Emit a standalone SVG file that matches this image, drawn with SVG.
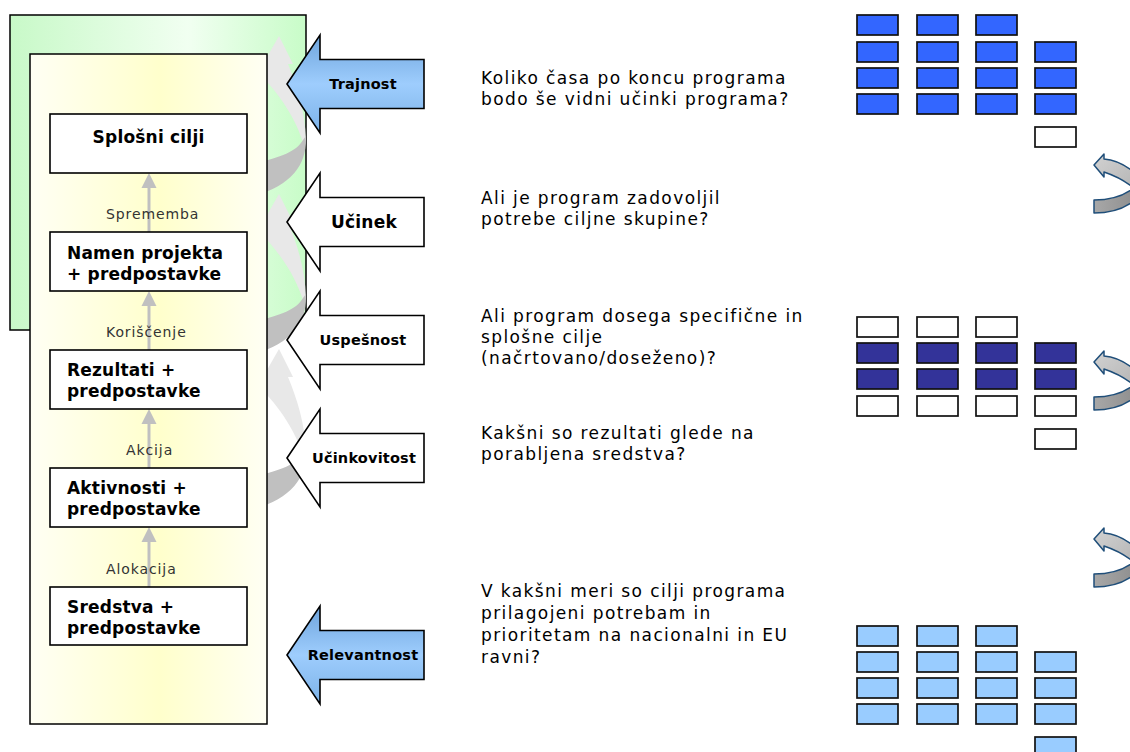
<svg xmlns="http://www.w3.org/2000/svg" width="1130" height="752" viewBox="0 0 1130 752">
  <defs>
    <linearGradient id="gGreen" x1="0" y1="0" x2="1" y2="0">
      <stop offset="0" stop-color="#c8f9c8"/>
      <stop offset="0.6" stop-color="#f1fff1"/>
      <stop offset="1" stop-color="#c8fcc8"/>
    </linearGradient>
    <linearGradient id="gYellow" x1="0" y1="0" x2="1" y2="0">
      <stop offset="0" stop-color="#fffff4"/>
      <stop offset="0.55" stop-color="#ffffcc"/>
      <stop offset="1" stop-color="#fffff4"/>
    </linearGradient>
    <linearGradient id="gBlue" x1="0" y1="0" x2="0" y2="1">
      <stop offset="0" stop-color="#6ea4dc"/>
      <stop offset="0.5" stop-color="#9ecdfd"/>
      <stop offset="1" stop-color="#7cb2e8"/>
    </linearGradient>
    <linearGradient id="gTurnLight" x1="0" y1="0" x2="1" y2="1">
      <stop offset="0" stop-color="#d2d2d2"/>
      <stop offset="1" stop-color="#b4b4b4"/>
    </linearGradient>
    <linearGradient id="gTurnDark" x1="0" y1="0" x2="1" y2="0">
      <stop offset="0" stop-color="#a8a8a8"/>
      <stop offset="1" stop-color="#8e8e8e"/>
    </linearGradient>

    <!-- left-pointing block arrow, origin at the tip -->
    <path id="blockArrow" d="M0 0 L33 -49 L33 -24.5 L137 -24.5 L137 24.5 L33 24.5 L33 49 Z"/>

    <!-- grey hook arrow running up the side of the logframe -->
    <g id="hook">
      <path fill="#e8e8e8" d="M279 36 L293 64 L288 64 C297 86 305 110 306 140 L303 142 C295 118 282 97 258 72 L258 64 L263 64 Z"/>
      <path fill="#c0c0c0" d="M306 136 C307 165 292 186 250 197 L250 164 C280 158 296 152 303 140 Z"/>
    </g>

    <!-- turning arrow at the right edge -->
    <g id="turn" stroke="#1f4e79" stroke-width="1.5" stroke-linejoin="round">
      <path fill="url(#gTurnDark)" d="M1136 186 C1125 196 1111 200 1094 200 L1094 213 C1112 213 1127 207 1136 199 Z"/>
      <path fill="url(#gTurnLight)" d="M1094 165 L1104 154 L1104 159 C1117 160 1127 166 1136 174 L1136 190 C1127 182 1116 176 1104 172 L1104 177 Z"/>
    </g>
  </defs>

  <style>
    .panel { stroke: #000; stroke-width: 1.5; }
    .box { fill: #fff; stroke: #000; stroke-width: 1.6; }
    .boxText { font-family: "DejaVu Sans", Verdana, sans-serif; font-weight: bold; font-size: 17px; letter-spacing: 0.2px; fill: #000; }
    .flow { stroke: #c0c0c0; stroke-width: 3; fill: none; }
    .flowHead { fill: #c0c0c0; }
    .flowText { font-family: "DejaVu Sans", Verdana, sans-serif; font-size: 14px; letter-spacing: 0.9px; fill: #333; }
    .crit { stroke: #000; stroke-width: 1.6; stroke-linejoin: miter; }
    .critText { font-family: "DejaVu Sans", Verdana, sans-serif; font-weight: bold; font-size: 14.5px; letter-spacing: 0.2px; fill: #000; text-anchor: middle; }
    .question { font-family: "DejaVu Sans", Verdana, sans-serif; font-size: 17px; letter-spacing: 1.4px; fill: #000; }
    .cell { stroke: #111; stroke-width: 1.7; }
    .c1 { fill: #3366ff; }
    .c2 { fill: #333399; }
    .c3 { fill: #99ccff; }
    .c0 { fill: #fff; }
  </style>

  <!-- impact panel behind the logframe -->
  <rect id="impact-panel" class="panel" x="10" y="15" width="296" height="315" fill="url(#gGreen)"/>

  <!-- hook arrows linking the levels -->
  <g id="hooks">
    <use href="#hook"/>
    <use href="#hook" transform="translate(0,158)"/>
    <use href="#hook" transform="translate(0,313)"/>
  </g>

  <!-- logframe panel -->
  <rect id="logframe-panel" class="panel" x="30" y="54" width="237" height="670" fill="url(#gYellow)"/>

  <!-- connectors between logframe levels -->
  <g id="connectors">
    <line class="flow" x1="149" y1="232" x2="149" y2="186"/>
    <polygon class="flowHead" points="149,173 141.5,188 156.5,188"/>
    <line class="flow" x1="149" y1="350" x2="149" y2="304"/>
    <polygon class="flowHead" points="149,291 141.5,306 156.5,306"/>
    <line class="flow" x1="149" y1="468" x2="149" y2="422"/>
    <polygon class="flowHead" points="149,409 141.5,424 156.5,424"/>
    <line class="flow" x1="149" y1="587" x2="149" y2="540"/>
    <polygon class="flowHead" points="149,527 141.5,542 156.5,542"/>
    <text class="flowText" x="106" y="219">Sprememba</text>
    <text class="flowText" x="106" y="337">Koriščenje</text>
    <text class="flowText" x="126" y="455">Akcija</text>
    <text class="flowText" x="106" y="574">Alokacija</text>
  </g>

  <!-- logframe levels -->
  <g id="splosni-cilji">
    <rect class="box" x="50" y="114" width="197" height="59"/>
    <text class="boxText" x="148.5" y="143" text-anchor="middle">Splošni cilji</text>
  </g>
  <g id="namen-projekta">
    <rect class="box" x="50" y="232" width="197" height="59"/>
    <text class="boxText" x="67" y="259">Namen projekta</text>
    <text class="boxText" x="67" y="280">+ predpostavke</text>
  </g>
  <g id="rezultati">
    <rect class="box" x="50" y="350" width="197" height="59"/>
    <text class="boxText" x="67" y="376">Rezultati +</text>
    <text class="boxText" x="67" y="397">predpostavke</text>
  </g>
  <g id="aktivnosti">
    <rect class="box" x="50" y="468" width="197" height="59"/>
    <text class="boxText" x="67" y="494">Aktivnosti +</text>
    <text class="boxText" x="67" y="515">predpostavke</text>
  </g>
  <g id="sredstva">
    <rect class="box" x="50" y="587" width="197" height="58"/>
    <text class="boxText" x="67" y="613">Sredstva +</text>
    <text class="boxText" x="67" y="634">predpostavke</text>
  </g>

  <!-- evaluation criteria -->
  <g id="trajnost">
    <use href="#blockArrow" class="crit" fill="url(#gBlue)" transform="translate(287,84)"/>
    <text class="critText" x="363" y="89">Trajnost</text>
  </g>
  <g id="ucinek">
    <use href="#blockArrow" class="crit" fill="#fff" transform="translate(287,222)"/>
    <text class="critText" x="364" y="228" style="font-size:17px">Učinek</text>
  </g>
  <g id="uspesnost">
    <use href="#blockArrow" class="crit" fill="#fff" transform="translate(287,340)"/>
    <text class="critText" x="363" y="345">Uspešnost</text>
  </g>
  <g id="ucinkovitost">
    <use href="#blockArrow" class="crit" fill="#fff" transform="translate(287,458)"/>
    <text class="critText" x="364" y="463">Učinkovitost</text>
  </g>
  <g id="relevantnost">
    <use href="#blockArrow" class="crit" fill="url(#gBlue)" transform="translate(287,655)"/>
    <text class="critText" x="363" y="660">Relevantnost</text>
  </g>

  <!-- evaluation questions -->
  <g id="questions">
    <text class="question" x="481" y="84">Koliko časa po koncu programa</text>
    <text class="question" x="481" y="105">bodo še vidni učinki programa?</text>
    <text class="question" x="481" y="204">Ali je program zadovoljil</text>
    <text class="question" x="481" y="225">potrebe ciljne skupine?</text>
    <text class="question" x="481" y="322">Ali program dosega specifične in</text>
    <text class="question" x="481" y="343">splošne cilje</text>
    <text class="question" x="481" y="364">(načrtovano/doseženo)?</text>
    <text class="question" x="481" y="439">Kakšni so rezultati glede na</text>
    <text class="question" x="481" y="460">porabljena sredstva?</text>
    <text class="question" x="481" y="597">V kakšni meri so cilji programa</text>
    <text class="question" x="481" y="619">prilagojeni potrebam in</text>
    <text class="question" x="481" y="641">prioritetam na nacionalni in EU</text>
    <text class="question" x="481" y="663">ravni?</text>
  </g>

  <!-- block grid: sustainability -->
  <g id="grid-trajnost" class="cell">
    <rect class="c1" x="857" y="15" width="41" height="20"/>
    <rect class="c1" x="917" y="15" width="41" height="20"/>
    <rect class="c1" x="976" y="15" width="41" height="20"/>
    <rect class="c1" x="857" y="42" width="41" height="20"/>
    <rect class="c1" x="917" y="42" width="41" height="20"/>
    <rect class="c1" x="976" y="42" width="41" height="20"/>
    <rect class="c1" x="1035" y="42" width="41" height="20"/>
    <rect class="c1" x="857" y="68" width="41" height="20"/>
    <rect class="c1" x="917" y="68" width="41" height="20"/>
    <rect class="c1" x="976" y="68" width="41" height="20"/>
    <rect class="c1" x="1035" y="68" width="41" height="20"/>
    <rect class="c1" x="857" y="94" width="41" height="20"/>
    <rect class="c1" x="917" y="94" width="41" height="20"/>
    <rect class="c1" x="976" y="94" width="41" height="20"/>
    <rect class="c1" x="1035" y="94" width="41" height="20"/>
    <rect class="c0" x="1035" y="127" width="41" height="20"/>
  </g>

  <!-- block grid: effectiveness -->
  <g id="grid-uspesnost" class="cell">
    <rect class="c0" x="857" y="317" width="41" height="20"/>
    <rect class="c0" x="917" y="317" width="41" height="20"/>
    <rect class="c0" x="976" y="317" width="41" height="20"/>
    <rect class="c2" x="857" y="343" width="41" height="20"/>
    <rect class="c2" x="917" y="343" width="41" height="20"/>
    <rect class="c2" x="976" y="343" width="41" height="20"/>
    <rect class="c2" x="1035" y="343" width="41" height="20"/>
    <rect class="c2" x="857" y="369" width="41" height="20"/>
    <rect class="c2" x="917" y="369" width="41" height="20"/>
    <rect class="c2" x="976" y="369" width="41" height="20"/>
    <rect class="c2" x="1035" y="369" width="41" height="20"/>
    <rect class="c0" x="857" y="396" width="41" height="20"/>
    <rect class="c0" x="917" y="396" width="41" height="20"/>
    <rect class="c0" x="976" y="396" width="41" height="20"/>
    <rect class="c0" x="1035" y="396" width="41" height="20"/>
    <rect class="c0" x="1035" y="429" width="41" height="20"/>
  </g>

  <!-- block grid: relevance -->
  <g id="grid-relevantnost" class="cell">
    <rect class="c3" x="857" y="626" width="41" height="20"/>
    <rect class="c3" x="917" y="626" width="41" height="20"/>
    <rect class="c3" x="976" y="626" width="41" height="20"/>
    <rect class="c3" x="857" y="652" width="41" height="20"/>
    <rect class="c3" x="917" y="652" width="41" height="20"/>
    <rect class="c3" x="976" y="652" width="41" height="20"/>
    <rect class="c3" x="1035" y="652" width="41" height="20"/>
    <rect class="c3" x="857" y="678" width="41" height="20"/>
    <rect class="c3" x="917" y="678" width="41" height="20"/>
    <rect class="c3" x="976" y="678" width="41" height="20"/>
    <rect class="c3" x="1035" y="678" width="41" height="20"/>
    <rect class="c3" x="857" y="704" width="41" height="20"/>
    <rect class="c3" x="917" y="704" width="41" height="20"/>
    <rect class="c3" x="976" y="704" width="41" height="20"/>
    <rect class="c3" x="1035" y="704" width="41" height="20"/>
    <rect class="c3" x="1035" y="737" width="41" height="20"/>
  </g>

  <!-- turning arrows between the grids -->
  <g id="turns">
    <use href="#turn"/>
    <use href="#turn" transform="translate(0,197)"/>
    <use href="#turn" transform="translate(0,374)"/>
  </g>
</svg>
